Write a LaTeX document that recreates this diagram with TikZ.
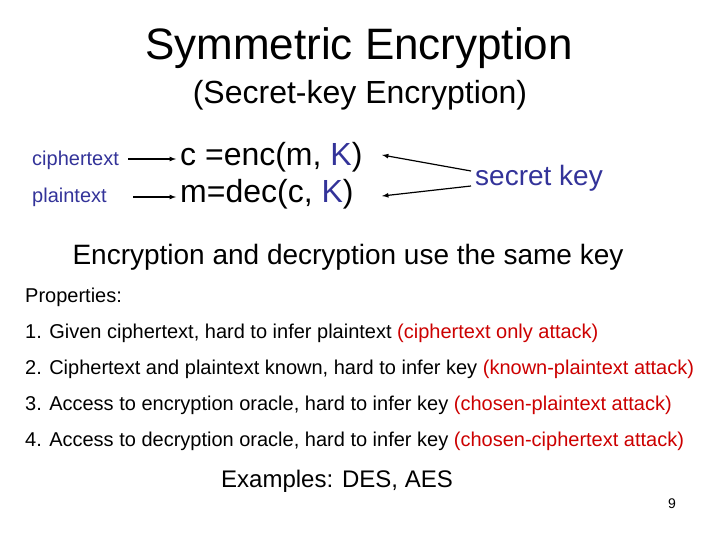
\documentclass[tikz,border=0pt]{standalone}
\usepackage{fontspec}
\setmainfont{Liberation Sans}
\definecolor{kblue}{HTML}{333399}
\definecolor{kred}{HTML}{CC0000}
\begin{document}
\begin{tikzpicture}[x=1pt,y=-1pt,
  lbl/.style={inner sep=0pt,anchor=west},
  arr/.style={-latex,line width=1.2pt}]
\useasboundingbox (0,0) rectangle (720,540);
\node[inner sep=0pt,font=\fontsize{44}{48}\selectfont] (t) at (359,48) {Symmetric Encryption};
\node[inner sep=0pt,font=\fontsize{32}{36}\selectfont] (st) at (360,95) {(Secret-key Encryption)};
\node[lbl,font=\fontsize{20}{24}\selectfont,text=kblue] (ct) at (32,160) {ciphertext};
\node[lbl,font=\fontsize{20}{24}\selectfont,text=kblue] (pt) at (32,197) {plaintext};
\node[lbl,font=\fontsize{32}{36}\selectfont] (enc) at (180,157) {c =enc(m, \textcolor{kblue}{K})};
\node[lbl,font=\fontsize{32}{36}\selectfont] (dec) at (180,194) {m=dec(c, \textcolor{kblue}{K})};
\node[lbl,font=\fontsize{28}{32}\selectfont,text=kblue] (sk) at (475,178) {secret key};
\coordinate (c1) at (128,159);
\coordinate (c2) at (133,197);
\draw[arr,shorten >=4pt] (c1) -- (enc.west|-c1);
\draw[arr,shorten >=4pt] (c2) -- (dec.west|-c2);
\coordinate (s1) at (471,171);
\coordinate (s2) at (471,186);
\coordinate (e1) at (382,155);
\coordinate (e2) at (382,196);
\draw[arr] (s1) -- (e1);
\draw[arr] (s2) -- (e2);
\node[inner sep=0pt,font=\fontsize{28}{32}\selectfont] (same) at (348,257) {Encryption and decryption use the same key};
\begin{scope}[every node/.style={lbl,font=\fontsize{20}{24}\selectfont}]
\node (pr) at (25,297) {Properties:};
\node (p1) at (25,333) {1. Given ciphertext, hard to infer plaintext \textcolor{kred}{(ciphertext only attack)}};
\node (p2) at (25,369) {2. Ciphertext and plaintext known, hard to infer key \textcolor{kred}{(known-plaintext attack)}};
\node (p3) at (25,405) {3. Access to encryption oracle, hard to infer key \textcolor{kred}{(chosen-plaintext attack)}};
\node (p4) at (25,441) {4. Access to decryption oracle, hard to infer key \textcolor{kred}{(chosen-ciphertext attack)}};
\end{scope}
\node[lbl,font=\fontsize{24}{28}\selectfont] (ex) at (221,481) {Examples: DES, AES};
\node[inner sep=0pt,font=\fontsize{14}{16}\selectfont] (num) at (672,504) {9};
\end{tikzpicture}
\end{document}
